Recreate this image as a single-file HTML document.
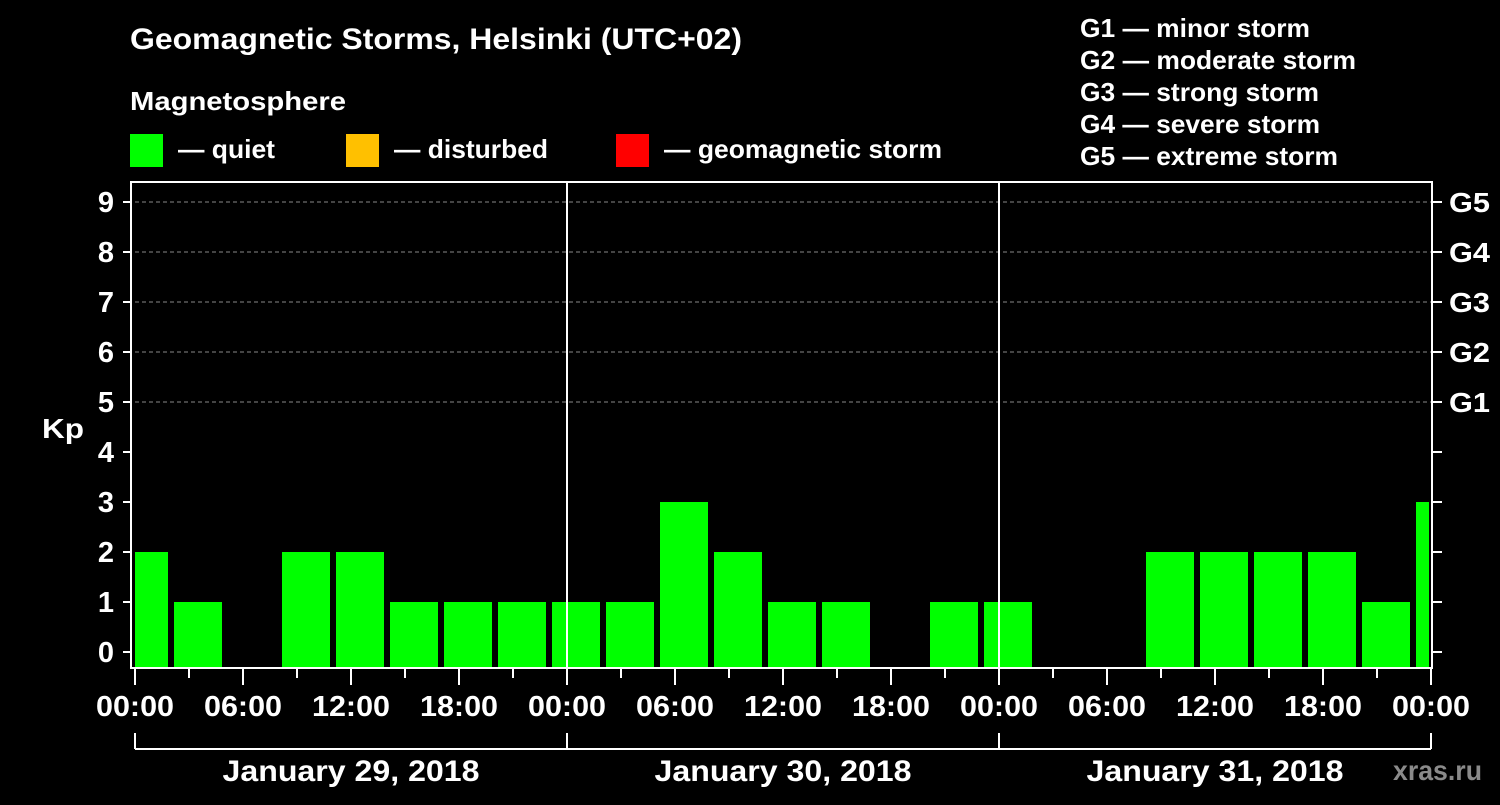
<!DOCTYPE html>
<html><head><meta charset="utf-8"><style>
body{margin:0;background:#000;width:1500px;height:800px;overflow:hidden}
svg text{font-family:"Liberation Sans",sans-serif;font-weight:bold;fill:#fff}
</style></head><body>
<svg id="c" width="1500" height="800">
<text x="130" y="49" font-size="30" textLength="612" lengthAdjust="spacingAndGlyphs">Geomagnetic Storms, Helsinki (UTC+02)</text>
<text x="130" y="110" font-size="26" textLength="216" lengthAdjust="spacingAndGlyphs">Magnetosphere</text>
<rect x="130" y="134" width="33" height="33" fill="#00ff00"/>
<text x="178" y="158" font-size="26" textLength="97" lengthAdjust="spacingAndGlyphs">— quiet</text>
<rect x="346" y="134" width="33" height="33" fill="#ffc000"/>
<text x="394" y="158" font-size="26" textLength="154" lengthAdjust="spacingAndGlyphs">— disturbed</text>
<rect x="616" y="134" width="33" height="33" fill="#ff0000"/>
<text x="664" y="158" font-size="26" textLength="278" lengthAdjust="spacingAndGlyphs">— geomagnetic storm</text>
<g font-size="26">
<text x="1080" y="37" textLength="230" lengthAdjust="spacingAndGlyphs">G1 — minor storm</text>
<text x="1080" y="69" textLength="276" lengthAdjust="spacingAndGlyphs">G2 — moderate storm</text>
<text x="1080" y="101" textLength="239" lengthAdjust="spacingAndGlyphs">G3 — strong storm</text>
<text x="1080" y="133" textLength="240" lengthAdjust="spacingAndGlyphs">G4 — severe storm</text>
<text x="1080" y="165" textLength="258" lengthAdjust="spacingAndGlyphs">G5 — extreme storm</text>
</g>
<text x="42" y="438" font-size="28" textLength="42" lengthAdjust="spacingAndGlyphs">Kp</text>
<text x="1393" y="780" font-size="28" textLength="89" lengthAdjust="spacingAndGlyphs" style="fill:#8a8a8a">xras.ru</text>
<g id="plot"></g>
</svg>
<script>
const days = ["January 29, 2018","January 30, 2018","January 31, 2018"];
const hourLabels = ["00:00","06:00","12:00","18:00"];
const kpValues = [2,1,0,2,2,1,1,1,1,1,3,2,1,1,0,1,1,0,0,2,2,2,2,1,3];
const binStartHour = -1;
const gLabels = ["G1","G2","G3","G4","G5"];
const NS="http://www.w3.org/2000/svg";
const X0=135, PXH=18, Y0=652, PXK=50, TOP=182, BOT=668, RIGHT=1432;
const xs=h=>X0+h*PXH, ys=k=>Y0-k*PXK;
const g=document.getElementById('plot');
function mk(t,a,p){const e=document.createElementNS(NS,t);for(const k in a)e.setAttribute(k,a[k]);(p||g).appendChild(e);return e;}
const totalH=days.length*24;
for(let k=5;k<=9;k++){const l=mk('line',{x1:X0,x2:RIGHT,y1:ys(k),y2:ys(k),stroke:'#888','stroke-dasharray':'4,3','stroke-width':1});

}
const clip=mk('clipPath',{id:'pc'});mk('rect',{x:X0,y:TOP,width:xs(totalH)-X0-2,height:BOT-TOP},clip);
const bg=mk('g',{'clip-path':'url(#pc)'});
kpValues.forEach((v,i)=>{if(v<=0)return;const h=binStartHour+i*3;
const r=mk('rect',{x:xs(h)+3,y:ys(v),width:3*PXH-6,height:BOT-1-ys(v),fill:'#00ff00'},bg);

});
for(let d=1;d<days.length;d++){const l=mk('line',{x1:xs(d*24),x2:xs(d*24),y1:TOP,y2:BOT,stroke:'#fff','stroke-width':2});

}
const f=mk('rect',{x:131,y:TOP,width:RIGHT-131,height:BOT-TOP,fill:'none',stroke:'#fff','stroke-width':2});


for(let k=0;k<=9;k++){mk('line',{x1:123,x2:131,y1:ys(k),y2:ys(k),stroke:'#fff','stroke-width':2});
mk('line',{x1:RIGHT,x2:1442,y1:ys(k),y2:ys(k),stroke:'#fff','stroke-width':2});
const t=mk('text',{x:114,y:ys(k)+10,'font-size':29,'text-anchor':'end'});t.textContent=k;

}
gLabels.forEach((s,i)=>{const t=mk('text',{x:1449,y:ys(5+i)+10,'font-size':28,textLength:41,lengthAdjust:'spacingAndGlyphs'});t.textContent=s;

});
for(let h=0;h<=totalH;h+=3){const major=h%6===0;mk('line',{x1:xs(h),x2:xs(h),y1:BOT,y2:major?685:678,stroke:'#fff','stroke-width':2});
if(major){const t=mk('text',{x:xs(h),y:716,'font-size':29,'text-anchor':'middle',textLength:78,lengthAdjust:'spacingAndGlyphs'});t.textContent=hourLabels[(h%24)/6];

}}
mk('line',{x1:X0,x2:xs(totalH),y1:749,y2:749,stroke:'#fff','stroke-width':2});
for(let d=0;d<=days.length;d++)mk('line',{x1:xs(d*24),x2:xs(d*24),y1:733,y2:749,stroke:'#fff','stroke-width':2});
days.forEach((s,d)=>{const t=mk('text',{x:xs(d*24+12),y:781,'font-size':30,'text-anchor':'middle',textLength:257,lengthAdjust:'spacingAndGlyphs'});t.textContent=s;

});
</script>
</body></html>
